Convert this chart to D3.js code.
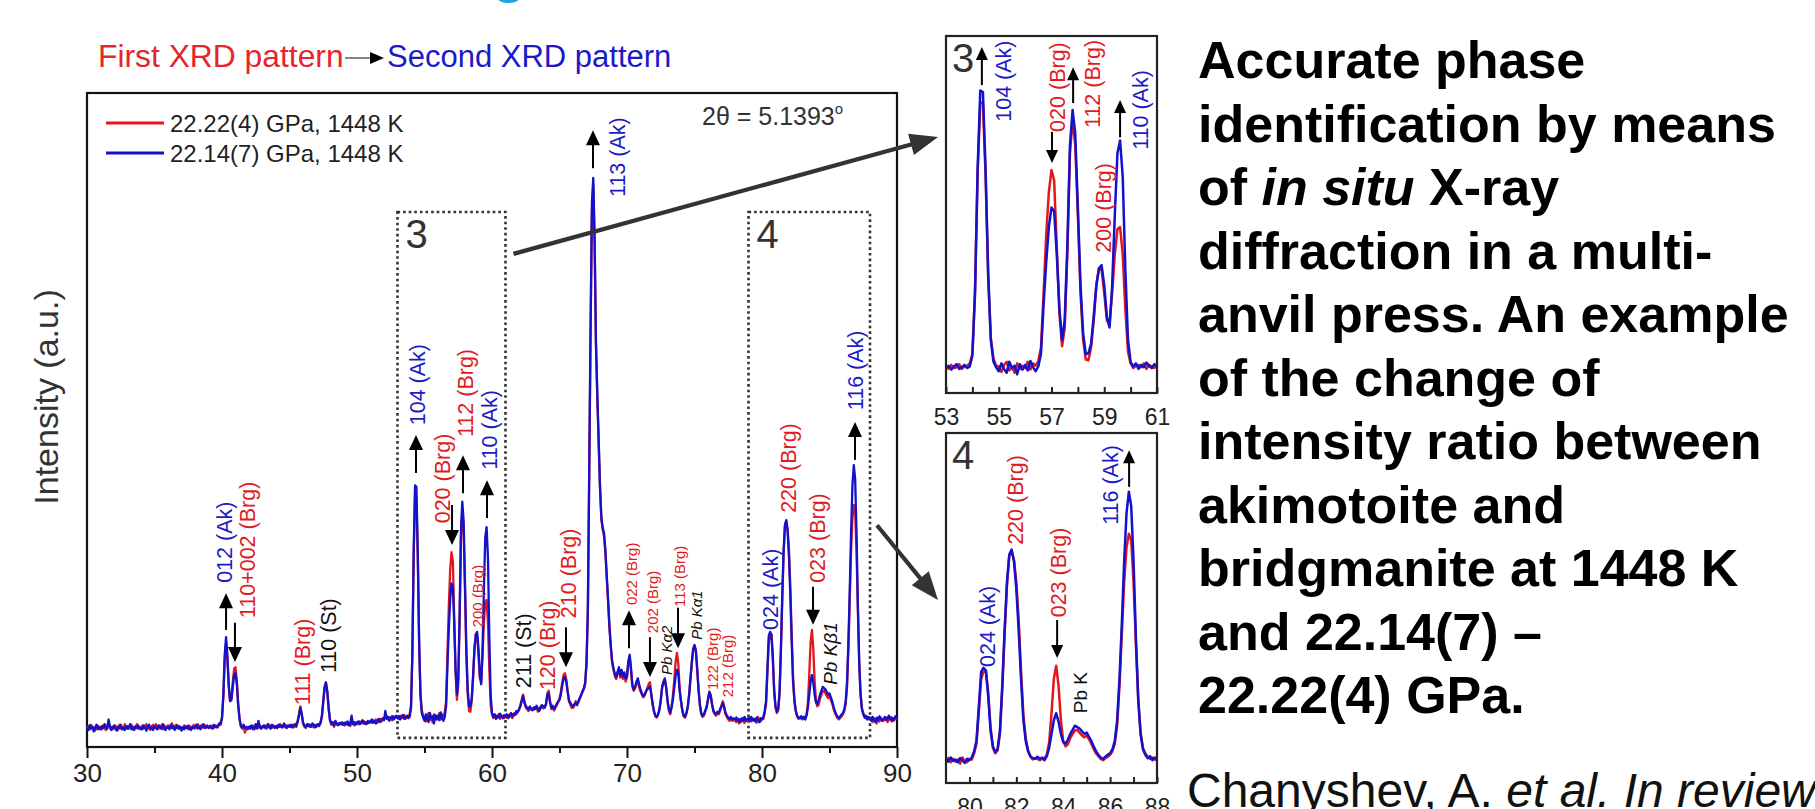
<!DOCTYPE html>
<html>
<head>
<meta charset="utf-8">
<script src="https://cdn.jsdelivr.net/npm/d3@7"></script>
<style>
  body { margin: 0; background: #fff; }
  svg { display: block; }
  text { font-family: "Liberation Sans", Arial, sans-serif; }
</style>
</head>
<body>
<script>
// measured patterns, 2theta from 30 to 90 deg in 0.1 deg steps
const thetaStart = 30;
const thetaStep = 0.1;

// second XRD pattern, 22.14(7) GPa
const blueIntensity = [
  30,26,33,28,31,24,29,34,27,30,
  27,32,29,35,30,28,42,31,26,30,
  33,28,25,31,29,34,27,30,26,32,
  28,31,35,27,30,26,32,29,33,28,
  30,27,33,29,25,31,34,28,30,26,
  32,29,27,33,30,28,35,31,26,29,
  31,27,34,29,32,26,30,33,28,31,
  25,30,27,32,29,33,28,26,31,29,
  30,34,28,31,27,32,35,29,30,33,
  29,32,30,28,34,31,30,33,36,34,
  45,80,140,168,140,95,70,72,92,110,
  113,96,64,42,33,30,34,29,31,28,
  31,28,33,30,27,35,29,40,30,28,
  30,33,29,31,35,30,28,34,31,29,
  32,29,34,31,33,30,36,32,29,33,
  31,34,30,33,35,31,38,48,60,52,
  38,33,30,35,32,34,31,36,33,30,
  33,35,32,38,48,70,92,99,85,60,
  42,36,38,33,40,36,34,37,35,38,
  34,37,35,39,33,36,48,35,38,34,
  36,39,35,37,41,36,38,35,40,37,
  38,42,37,40,36,39,43,38,41,44,
  41,55,43,46,40,44,47,42,45,48,
  44,47,42,46,49,43,45,48,44,46,
  60,140,300,400,398,300,165,80,52,45,
  40,50,43,38,52,44,47,36,49,42,
  48,41,53,45,40,46,62,125,180,225,
  250,245,190,120,80,105,200,330,375,345,
  250,150,88,62,63,75,110,150,172,176,
  150,110,96,150,240,320,336,290,170,80,
  52,46,50,43,48,45,51,47,44,49,
  46,50,44,48,52,47,51,49,55,53,
  58,62,70,78,68,63,60,57,62,59,
  56,61,58,63,59,55,60,64,62,60,
  66,80,82,68,60,63,58,62,66,70,
  72,80,94,104,107,100,85,72,68,64,
  62,65,68,64,70,75,80,85,90,98,
  130,210,420,640,830,870,780,620,540,470,
  400,352,335,327,300,262,225,185,155,132,
  120,112,107,115,122,110,118,108,114,105,
  110,132,141,120,95,88,92,100,105,96,
  88,82,78,80,85,88,90,92,80,66,
  55,48,46,50,58,72,92,100,105,92,
  72,58,52,60,72,90,108,118,112,85,
  70,56,48,46,52,62,80,105,130,150,
  156,148,120,88,65,52,48,50,56,62,
  72,83,78,65,56,52,50,54,52,58,
  62,67,60,52,48,45,43,46,42,44,
  42,45,40,43,38,44,41,46,40,43,
  44,40,46,41,43,39,45,42,38,44,
  42,46,55,70,120,170,176,172,135,85,
  62,54,58,85,150,230,300,340,347,330,
  290,230,160,100,70,55,48,45,44,47,
  44,46,42,48,60,80,100,110,98,80,
  68,66,72,80,86,92,90,88,84,80,
  82,76,70,62,55,50,46,44,47,50,
  52,58,70,100,160,240,330,400,431,410,
  330,220,130,80,58,50,45,48,42,46,
  44,40,46,42,38,45,41,47,43,40,
  43,46,41,44,48,42,45,40,44,47,
  43
];

// first XRD pattern, 22.22(4) GPa
const redIntensity = [
  28,32,27,34,29,30,25,31,33,28,
  31,27,33,29,26,32,38,29,31,27,
  29,33,30,26,34,28,31,27,35,30,
  32,28,30,34,27,31,29,35,28,30,
  27,33,29,31,35,28,30,26,32,34,
  30,35,31,28,33,29,27,34,30,31,
  33,29,30,36,28,31,34,29,32,28,
  30,28,33,29,31,27,32,30,28,34,
  28,31,35,30,33,29,31,34,29,31,
  31,29,33,31,29,33,32,30,35,38,
  44,76,132,159,134,92,70,76,100,120,
  122,100,66,44,31,28,32,22,30,27,
  29,32,30,27,33,31,28,30,33,31,
  32,30,33,28,31,34,31,29,33,32,
  30,33,31,35,30,32,34,30,33,31,
  33,31,34,30,32,35,40,50,62,50,
  36,31,29,33,35,31,34,32,30,34,
  31,34,35,36,46,68,90,98,84,58,
  40,34,35,31,37,34,33,35,36,34,
  36,33,38,34,37,32,36,38,33,37,
  38,35,39,36,37,40,35,38,36,39,
  40,37,41,38,42,37,40,43,39,41,
  43,45,47,42,46,44,41,47,44,46,
  46,43,48,44,45,49,43,46,47,50,
  62,142,295,385,384,292,160,82,56,47,
  46,39,48,52,41,45,38,50,43,47,
  44,52,42,50,47,53,70,140,215,270,
  298,285,200,115,72,95,190,320,362,330,
  240,140,80,55,54,70,105,150,172,170,
  140,105,100,140,190,222,225,190,120,65,
  50,44,47,48,45,50,43,48,46,44,
  48,45,49,46,50,44,48,52,50,55,
  56,64,72,80,70,60,58,55,60,57,
  58,57,60,61,54,57,62,60,59,63,
  64,82,86,70,58,60,56,60,64,68,
  74,84,98,110,113,104,86,70,65,60,
  60,63,70,66,68,74,78,84,88,96,
  126,205,410,630,815,860,770,615,535,465,
  395,348,332,322,298,258,222,182,152,128,
  118,108,104,112,118,106,114,104,110,100,
  106,128,138,116,92,86,90,96,102,92,
  85,80,76,78,84,90,96,99,82,64,
  54,47,45,49,56,70,90,98,103,90,
  70,56,50,62,78,102,130,144,128,90,
  70,55,47,45,51,60,78,103,128,148,
  155,146,118,86,63,50,46,48,54,60,
  74,85,80,66,54,50,48,52,50,56,
  64,70,62,50,46,42,40,44,40,42,
  40,38,43,36,41,39,44,37,42,40,
  42,45,39,44,40,43,37,46,41,39,
  44,43,52,66,112,160,170,172,140,90,
  60,52,56,80,145,225,295,338,345,332,
  300,245,172,108,74,56,47,43,45,44,
  42,44,45,50,68,110,160,179,150,100,
  70,62,65,74,80,85,86,82,78,75,
  78,72,66,58,52,48,44,42,45,47,
  50,55,66,92,150,225,300,350,370,360,
  300,210,130,82,60,52,47,44,46,43,
  42,45,38,44,40,36,43,39,45,41,
  40,43,45,38,42,46,39,44,41,45,
  42
];

const twoTheta = blueIntensity.map((_, i) => +(thetaStart + i * thetaStep).toFixed(1));

const mainTicks = [30, 40, 50, 60, 70, 80, 90];
const mainMinorTicks = [35, 45, 55, 65, 75, 85];
const inset3Ticks = [53, 55, 57, 59, 61];
const inset3MinorTicks = [54, 56, 58, 60];
const inset4Ticks = [80, 82, 84, 86, 88];
const inset4MinorTicks = [81, 83, 85, 87];

const legendLabels = ["22.22(4) GPa, 1448 K", "22.14(7) GPa, 1448 K"];

// zoom windows drawn as dotted boxes: [name, from, to]
const zoomWindows = [["3", 53, 61], ["4", 79, 88]];

// peak labels: [2theta, text, phase, intensity at text start, size]
const mainLabels = [
  [40.15, "012 (Ak)", "ak", 251],
  [41.85, "110+002 (Brg)", "brg", 197],
  [45.93, "111 (Brg)", "brg", 64],
  [47.85, "110 (St)", "st", 113],
  [54.44, "104 (Ak)", "ak", 492],
  [56.30, "020 (Brg)", "brg", 342],
  [58.00, "112 (Brg)", "brg", 474],
  [59.78, "110 (Ak)", "ak", 424],
  [58.90, "200 (Brg)", "brg", 183, "s"],
  [62.30, "211 (St)", "st", 90],
  [64.07, "120 (Brg)", "brg", 87],
  [65.63, "210 (Brg)", "brg", 197],
  [69.26, "113 (Ak)", "ak", 841],
  [70.37, "022 (Brg)", "brg", 217, "s"],
  [71.93, "202 (Brg)", "brg", 174, "s"],
  [72.96, "Pb Kα2", "pb", 110, "s"],
  [73.93, "113 (Brg)", "brg", 214, "s"],
  [75.19, "Pb Kα1", "pb", 164, "s"],
  [76.37, "122 (Brg)", "brg", 87, "s"],
  [77.48, "212 (Brg)", "brg", 76, "s"],
  [80.59, "024 (Ak)", "ak", 179],
  [81.93, "220 (Brg)", "brg", 358],
  [84.07, "023 (Brg)", "brg", 251],
  [85.04, "Pb Kβ1", "pb", 95, "m"],
  [86.89, "116 (Ak)", "ak", 515]
];
// arrows: [2theta, intensity at tail, intensity at tip]
const mainArrows = [
  [40.30, 179, 235], [40.96, 190, 130], [54.37, 419, 477], [57.04, 370, 309],
  [57.85, 388, 446], [59.63, 350, 408], [65.48, 183, 122], [67.48, 885, 943],
  [70.15, 151, 209], [71.70, 168, 107], [73.78, 213, 151], [83.78, 245, 187],
  [86.89, 439, 497]
];

const inset3Labels = [
  [55.16, "104 (Ak)", "ak", 360],
  [57.21, "020 (Brg)", "brg", 347],
  [58.54, "112 (Brg)", "brg", 352],
  [58.95, "200 (Brg)", "brg", 192],
  [60.36, "110 (Ak)", "ak", 324]
];
const inset3Arrows = [[54.36, 407, 456], [57.02, 347, 307], [57.82, 384, 430], [59.60, 340, 388]];

const inset4Labels = [
  [80.75, "024 (Ak)", "ak", 177],
  [81.94, "220 (Brg)", "brg", 354],
  [83.78, "023 (Brg)", "brg", 249],
  [84.72, "Pb K", "st", 110, "m"],
  [86.00, "116 (Ak)", "ak", 383]
];
const inset4Arrows = [[83.74, 245, 190], [86.81, 438, 491]];

const summaryLines = [
  [["Accurate phase"]],
  [["identification by means"]],
  [["of "], ["in situ", true], [" X-ray"]],
  [["diffraction in a multi-"]],
  [["anvil press. An example"]],
  [["of the change of"]],
  [["intensity ratio between"]],
  [["akimotoite and"]],
  [["bridgmanite at 1448 K"]],
  [["and 22.14(7) \u2013"]],
  [["22.22(4) GPa."]]
];

const RED = "#e3161c", BLUE = "#1212cc";
const phaseColor = { ak: "#1c1cc4", brg: "#e21b22", st: "#111", pb: "#111" };
const labelSize = { s: 15, m: 19 };

const svg = d3.select("body").append("svg")
  .attr("width", 1815).attr("height", 809);

const pattern = twoTheta.map((t, i) => ({ t, red: redIntensity[i], blue: blueIntensity[i] }));

function drawArrow(g, x, yTail, yTip, headLen, headW) {
  const dir = yTip < yTail ? -1 : 1;
  g.append("line")
    .attr("x1", x).attr("x2", x)
    .attr("y1", yTail).attr("y2", yTip - dir * headLen + dir)
    .attr("stroke", "#000").attr("stroke-width", 2);
  g.append("path")
    .attr("d", `M${x},${yTip} L${x - headW / 2},${yTip - dir * headLen} L${x + headW / 2},${yTip - dir * headLen} Z`)
    .attr("fill", "#000");
}

function drawLabels(g, xs, ys, labels, normalSize) {
  g.selectAll(null).data(labels).join("text")
    .attr("transform", d => `translate(${xs(d[0])},${ys(d[3])}) rotate(-90)`)
    .attr("dy", "0.36em")
    .attr("font-size", d => labelSize[d[4]] || normalSize)
    .attr("font-style", d => d[2] === "pb" ? "italic" : null)
    .attr("fill", d => phaseColor[d[2]])
    .text(d => d[1]);
}

function drawCurves(g, xs, ys, data, width) {
  const line = (key) => d3.line().x(d => xs(d.t)).y(d => ys(d[key]))(data);
  g.append("path").attr("d", line("red")).attr("fill", "none")
    .attr("stroke", RED).attr("stroke-width", width).attr("stroke-linejoin", "round");
  g.append("path").attr("d", line("blue")).attr("fill", "none")
    .attr("stroke", BLUE).attr("stroke-width", width).attr("stroke-linejoin", "round");
}

// remnant of the cropped slide title above the figure
svg.append("text").attr("x", 492).attr("y", -9).attr("font-size", 56)
  .attr("font-weight", "bold").attr("fill", "#19a3e0").text("g");

// ---------- header and legend ----------
svg.append("text").attr("x", 98).attr("y", 67).attr("font-size", 31.8)
  .attr("fill", "#e4262c").text("First XRD pattern");
svg.append("line").attr("x1", 345).attr("x2", 372).attr("y1", 58).attr("y2", 58)
  .attr("stroke", "#333").attr("stroke-width", 1.2);
svg.append("path").attr("d", "M384,58 L370,52 L370,64 Z").attr("fill", "#000");
svg.append("text").attr("x", 387).attr("y", 67).attr("font-size", 31)
  .attr("fill", "#1a1ac8").text("Second XRD pattern");

// ---------- main plot ----------
const x = d3.scaleLinear().domain([30, 90]).range([87, 897]);
const y = d3.scaleLinear().domain([0, 1000]).range([747, 93]);
const main = svg.append("g");

main.append("rect")
  .attr("x", x.range()[0]).attr("y", y.range()[1])
  .attr("width", x.range()[1] - x.range()[0]).attr("height", y.range()[0] - y.range()[1])
  .attr("fill", "none").attr("stroke", "#111").attr("stroke-width", 2.2);

const xAxis = main.append("g").attr("transform", `translate(0,${y.range()[0]})`)
  .call(d3.axisBottom(x).tickValues(mainTicks).tickSize(11).tickPadding(6).tickFormat(d3.format("d")));
xAxis.select(".domain").remove();
xAxis.selectAll("line").attr("stroke", "#111").attr("stroke-width", 2);
xAxis.selectAll("text").attr("font-size", 26).attr("fill", "#222")
  .attr("font-family", "'Liberation Sans', Arial, sans-serif");
main.append("g").attr("transform", `translate(0,${y.range()[0]})`)
  .call(d3.axisBottom(x).tickValues(mainMinorTicks).tickSize(6).tickFormat(""))
  .call(g => g.select(".domain").remove())
  .selectAll("line").attr("stroke", "#111").attr("stroke-width", 2);

svg.append("text")
  .attr("transform", `translate(58,397) rotate(-90)`)
  .attr("text-anchor", "middle").attr("font-size", 34).attr("fill", "#333")
  .text("Intensity (a.u.)");

// dotted zoom boxes
zoomWindows.forEach(([name, a, b]) => {
  main.append("rect")
    .attr("x", x(a)).attr("y", y(818)).attr("width", x(b) - x(a)).attr("height", y(14) - y(818))
    .attr("fill", "none").attr("stroke", "#333").attr("stroke-width", 2.6)
    .attr("stroke-dasharray", "2.6,3");
  main.append("text").attr("x", x(a) + 8).attr("y", y(818) + 36)
    .attr("font-size", 40).attr("fill", "#333").text(name);
});

drawCurves(main, x, y, pattern, 2.3);

// legend
legendLabels.forEach((t, i) => {
  const ly = 123 + i * 30;
  main.append("line").attr("x1", 106).attr("x2", 164).attr("y1", ly).attr("y2", ly)
    .attr("stroke", i === 0 ? RED : BLUE).attr("stroke-width", 3);
  main.append("text").attr("x", 170).attr("y", ly + 8.5).attr("font-size", 24)
    .attr("fill", "#222").text(t);
});

const theta = main.append("text").attr("x", 702).attr("y", 125).attr("font-size", 25).attr("fill", "#333");
theta.append("tspan").text("2\u03b8 = 5.1393");
theta.append("tspan").attr("font-size", 15).attr("dy", -11).text("o");

drawLabels(main, x, y, mainLabels, 21.5);
mainArrows.forEach(([t, a, b]) => drawArrow(main, x(t), y(a), y(b), 15, 14));

// ---------- insets ----------
function drawInset(xs, ys, ticks, minor, labels, arrows, name, id) {
  const g = svg.append("g");
  const [x0, x1] = xs.range(), [y0, y1] = ys.range();
  svg.append("clipPath").attr("id", id).append("rect")
    .attr("x", x0).attr("y", y1).attr("width", x1 - x0).attr("height", y0 - y1);
  const [d0, d1] = xs.domain();
  const part = pattern.filter(d => d.t >= d0 - 0.1 && d.t <= d1 + 0.1);
  drawCurves(g.append("g").attr("clip-path", `url(#${id})`), xs, ys, part, 2.5);
  g.append("rect").attr("x", x0).attr("y", y1).attr("width", x1 - x0).attr("height", y0 - y1)
    .attr("fill", "none").attr("stroke", "#222").attr("stroke-width", 2.2);
  const ax = g.append("g").attr("transform", `translate(0,${y0})`)
    .call(d3.axisBottom(xs).tickValues(ticks).tickSize(-6).tickPadding(16).tickFormat(d3.format("d")));
  ax.select(".domain").remove();
  ax.selectAll("line").attr("stroke", "#222").attr("stroke-width", 2);
  ax.selectAll("text").attr("font-size", 23).attr("fill", "#222")
    .attr("font-family", "'Liberation Sans', Arial, sans-serif");
  g.append("g").attr("transform", `translate(0,${y0})`)
    .call(d3.axisBottom(xs).tickValues(minor).tickSize(-6).tickFormat(""))
    .call(s => s.select(".domain").remove())
    .selectAll("line").attr("stroke", "#222").attr("stroke-width", 2);
  g.append("text").attr("x", x0 + 6).attr("y", y1 + 36).attr("font-size", 40)
    .attr("fill", "#333").text(name);
  drawLabels(g, xs, ys, labels, 21.5);
  arrows.forEach(([t, a, b]) => drawArrow(g, xs(t), ys(a), ys(b), 13, 12));
}

const x3 = d3.scaleLinear().domain([53, 61]).range([946, 1157]);
const y3 = d3.scaleLinear().domain([12, 470]).range([393, 36]);
drawInset(x3, y3, inset3Ticks, inset3MinorTicks, inset3Labels, inset3Arrows, "3", "clip3");

const x4 = d3.scaleLinear().domain([79, 88]).range([946, 1157]);
const y4 = d3.scaleLinear().domain([9, 516]).range([783, 433]);
drawInset(x4, y4, inset4Ticks, inset4MinorTicks, inset4Labels, inset4Arrows, "4", "clip4");

// connectors from dotted boxes to insets
function bigArrow(xa, ya, xb, yb) {
  const ang = Math.atan2(yb - ya, xb - xa), L = 28, W = 11;
  const bx = xb - L * Math.cos(ang), by = yb - L * Math.sin(ang);
  svg.append("line").attr("x1", xa).attr("y1", ya).attr("x2", bx + 2 * Math.cos(ang)).attr("y2", by + 2 * Math.sin(ang))
    .attr("stroke", "#333").attr("stroke-width", 4.2);
  svg.append("path")
    .attr("d", `M${xb},${yb} L${bx - W * Math.sin(ang)},${by + W * Math.cos(ang)} L${bx + W * Math.sin(ang)},${by - W * Math.cos(ang)} Z`)
    .attr("fill", "#333");
}
bigArrow(x(61) + 8, y(754), x3.range()[0] - 8, 137);
bigArrow(x(88) + 7, y(339), x4.range()[0] - 8, 600);

// ---------- summary text ----------
const summary = svg.append("g");
summaryLines.forEach((parts, i) => {
  const t = summary.append("text").attr("x", 1198).attr("y", 78 + i * 63.5)
    .attr("font-size", 52).attr("font-weight", "bold").attr("fill", "#000");
  parts.forEach(([s, it]) => t.append("tspan").attr("font-style", it ? "italic" : null).text(s));
});
const cite = svg.append("text").attr("x", 1187).attr("y", 807).attr("font-size", 48).attr("fill", "#111");
cite.append("tspan").text("Chanyshev, A. ");
cite.append("tspan").attr("font-style", "italic").text("et al. In review");
</script>
</body>
</html>
